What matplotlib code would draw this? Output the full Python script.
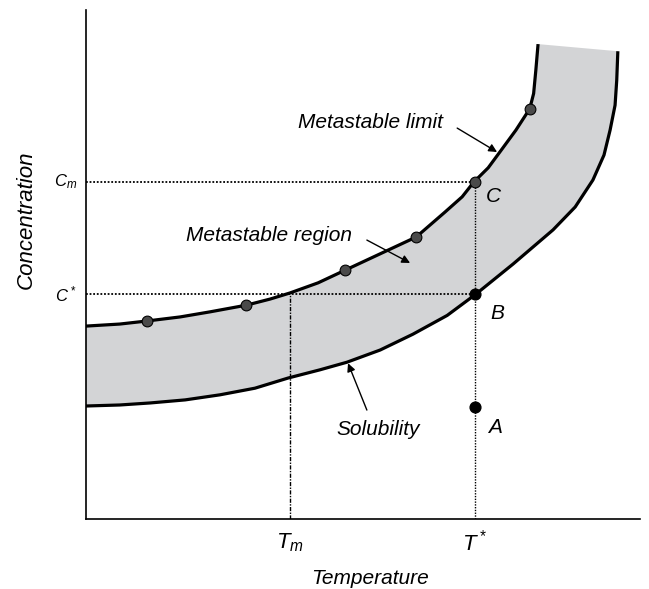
import matplotlib
matplotlib.use('Agg')
import matplotlib.pyplot as plt

plt.rcParams['font.family'] = ['Liberation Sans', 'DejaVu Sans']
plt.rcParams['mathtext.fontset'] = 'custom'
plt.rcParams['mathtext.it'] = 'Liberation Sans:italic'
plt.rcParams['mathtext.rm'] = 'Liberation Sans'

# metastable limit (supersolubility) curve
limit_T = [0, 6.1, 11.0, 17.0, 22.4, 28.9, 33.2, 36.8, 41.9, 46.8, 53.1, 59.6,
           64.8, 67.9, 70.0, 72.6, 74.7, 77.6, 80.1, 80.8, 81.2, 81.6]
limit_C = [37.9, 38.3, 38.9, 39.7, 40.7, 42.0, 43.2, 44.4, 46.4, 48.9, 52.1, 55.4,
           60.3, 63.3, 66.2, 69.0, 72.1, 76.4, 80.6, 83.6, 88.2, 93.3]

# solubility curve
sol_T = [0, 6.1, 11.6, 17.9, 24.2, 30.5, 36.5, 42.2, 47.1, 53.1, 59.0, 65.2,
         70.4, 77.1, 84.3, 88.3, 91.5, 93.5, 94.6, 95.5, 95.8, 96.0]
sol_C = [22.2, 22.4, 22.8, 23.4, 24.4, 25.7, 27.7, 29.3, 30.8, 33.2, 36.3, 40.0,
         44.2, 50.1, 56.8, 61.3, 66.6, 71.5, 76.4, 81.3, 86.2, 91.9]

# measured points on the metastable limit
dot_T = [11.0, 28.9, 46.8, 59.6, 80.1]
dot_C = [38.9, 42.0, 48.9, 55.4, 80.6]

# state points
T_star, T_m = 70.2, 36.8
C_star, C_m = 44.2, 66.2
C_A = 22.0

fig = plt.figure(figsize=(6.49, 5.89), dpi=100)
ax = fig.add_axes([86 / 649, 70 / 589, 554 / 649, 509 / 589])
ax.set_xlim(0, 100)
ax.set_ylim(0, 100)
for s in ['top', 'right']:
    ax.spines[s].set_visible(False)
for s in ['left', 'bottom']:
    ax.spines[s].set_linewidth(1.2)
ax.set_xticks([])
ax.set_yticks([])

# shaded metastable band
band_T = list(limit_T) + list(sol_T[::-1])
band_C = list(limit_C) + list(sol_C[::-1])
ax.fill(band_T, band_C, color='#d3d4d6', lw=0, zorder=1)

curve = dict(color='black', lw=2.3, zorder=3, solid_capstyle='butt',
             solid_joinstyle='round')
ax.plot(limit_T, limit_C, **curve)
ax.plot(sol_T, sol_C, **curve)

# guide lines
ax.plot([0, T_star], [C_m, C_m], color='black', lw=1.3, ls=(0, (1, 1)), zorder=2)
ax.plot([0, T_star], [C_star, C_star], color='black', lw=1.3, ls=(0, (1, 1)), zorder=2)
ax.plot([T_m, T_m], [0, C_star], color='black', lw=1.0, ls=(0, (3, 1, 1, 1)), zorder=2)
ax.plot([T_star, T_star], [0, C_m], color='black', lw=1.0, ls=(0, (1, 1)), zorder=2)

ax.scatter(dot_T + [T_star], dot_C + [C_m], s=60, color='#4a4a4a',
           edgecolor='black', lw=0.8, zorder=4)
ax.scatter([T_star, T_star], [C_star, C_A], s=60, color='black', zorder=4)

txt = dict(style='italic', fontsize=15, color='black')
ax.text(73.6, 63.3, 'C', ha='center', va='center', **txt)
ax.text(74.2, 40.3, 'B', ha='center', va='center', **txt)
ax.text(73.8, 17.9, 'A', ha='center', va='center', **txt)

arrow = dict(arrowstyle='-|>', color='black', lw=1.0, mutation_scale=12,
             shrinkA=0, shrinkB=0)
ax.annotate('', xy=(74.2, 72.1), xytext=(67.0, 76.8), arrowprops=arrow)
ax.annotate('', xy=(58.5, 50.3), xytext=(50.7, 54.8), arrowprops=arrow)
ax.annotate('', xy=(47.3, 30.6), xytext=(50.7, 21.4), arrowprops=arrow)
ax.text(51.3, 77.8, 'Metastable limit', ha='center', va='center', **txt)
ax.text(33.0, 55.6, 'Metastable region', ha='center', va='center', **txt)
ax.text(52.7, 17.5, 'Solubility', ha='center', va='center', **txt)

ax.text(-3.6, C_m, r'$C_m$', ha='center', va='center', fontsize=12, clip_on=False)
ax.text(-3.6, C_star, r'$C^*$', ha='center', va='center', fontsize=12, clip_on=False)
ax.text(T_m, -4.7, r'$T_m$', ha='center', va='center', fontsize=16, clip_on=False)
ax.text(T_star, -4.7, r'$T^*$', ha='center', va='center', fontsize=16, clip_on=False)
ax.text(51.3, -11.6, 'Temperature', ha='center', va='center', **txt)
ax.text(-10.8, 58.7, 'Concentration', ha='center', va='center', rotation=90,
        style='italic', fontsize=16)

fig.savefig('out.png', dpi=100, facecolor='white')
